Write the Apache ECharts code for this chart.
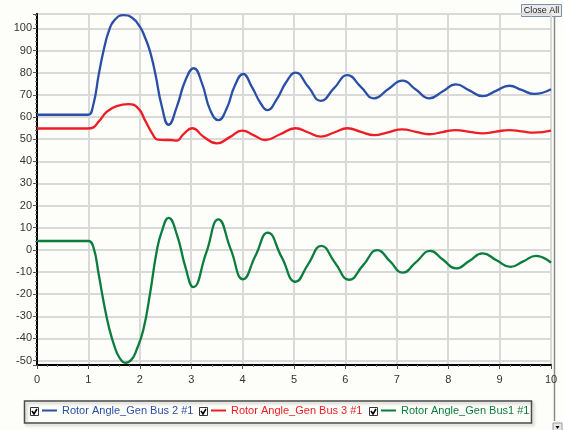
<!DOCTYPE html>
<html>
<head>
<meta charset="utf-8">
<script src="https://cdn.jsdelivr.net/npm/echarts@6/dist/echarts.min.js"></script>
<style>
  html, body { margin: 0; padding: 0; background: #fdfdf9; }
  #chart { width: 564px; height: 430px; }
</style>
</head>
<body>
<div id="chart"></div>
<script>
// rotor angle traces: time (s) and angle (deg)
const bus2Times = [0, 0.9, 1.0, 1.1, 1.2, 1.3, 1.4, 1.5, 1.68, 1.85, 2.0, 2.1, 2.2, 2.3, 2.43, 2.56, 2.72, 2.89,
  3.05, 3.21, 3.37, 3.53, 3.69, 3.85, 4.01, 4.18, 4.35, 4.48, 4.66, 4.85, 5.03, 5.28, 5.52, 5.78,
  6.04, 6.30, 6.56, 6.83, 7.11, 7.37, 7.63, 7.89, 8.15, 8.41, 8.67, 8.93, 9.19, 9.43, 9.67, 10]
const bus2Values = [61, 61, 61, 66, 79, 90.5, 99, 103.5, 106, 104.8, 100.8, 96, 89.5, 79.7, 64.6, 56.5, 64.6, 76.7,
  82, 75.2, 63.1, 58.6, 63.8, 74.2, 79.4, 73.6, 66.2, 63.1, 67.8, 75.8, 80, 73.5, 67.3, 73,
  78.9, 73.6, 68.4, 72.5, 76.4, 72.4, 68.4, 71.5, 74.7, 72, 69.4, 71.8, 74.1, 72.2, 70.4, 72.5]

const bus3Times = [0, 0.9, 1.05, 1.2, 1.36, 1.55, 1.78, 1.97, 2.1, 2.24, 2.35, 2.5, 2.6, 2.72, 2.85, 3.02,
  3.24, 3.5, 3.75, 3.99, 4.22, 4.44, 4.73, 5.03, 5.28, 5.52, 5.78, 6.04, 6.30, 6.56, 6.83,
  7.11, 7.37, 7.63, 7.89, 8.15, 8.41, 8.67, 8.93, 9.19, 9.43, 9.67, 10]
const bus3Values = [54.8, 54.8, 54.9, 57.9, 62.4, 64.9, 65.8, 63.9, 58.6, 52.6, 49.8, 49.6, 49.6, 49.3, 52.3, 54.9,
  51.1, 48.1, 50.9, 53.8, 51.7, 49.6, 52.2, 54.9, 53, 51.1, 53, 54.9, 53.3, 51.8, 53.1,
  54.4, 53.3, 52.2, 53.2, 54.1, 53.3, 52.6, 53.4, 54.1, 53.5, 52.9, 53.8]

const bus1Times = [0, 0.9, 1.0, 1.1, 1.2, 1.3, 1.4, 1.5, 1.6, 1.72, 1.84, 1.94, 2.07, 2.2, 2.33, 2.43, 2.56,
  2.72, 2.89, 3.04, 3.29, 3.53, 3.77, 4.01, 4.25, 4.49, 4.76, 5.03, 5.28, 5.53, 5.80, 6.07,
  6.35, 6.62, 6.87, 7.11, 7.38, 7.65, 7.90, 8.15, 8.41, 8.67, 8.94, 9.21, 9.46, 9.71, 10]
const bus1Values = [4, 4, 4, 1, -11, -24, -35, -43, -48.5, -51, -49.5, -45, -36, -19.6, -0.5, 8.5, 14.4,
  7, -8, -16.8, -1.5, 13.8, 0.2, -13.3, -2.7, 7.8, -3.3, -14.4, -6.3, 1.8, -5.9, -13.5,
  -6.8, -0.1, -5.2, -10.3, -5.4, -0.5, -4.5, -8.4, -5, -1.6, -4.7, -7.7, -5.2, -2.7, -5.8]

const names = ['Rotor Angle_Gen Bus 2 #1', 'Rotor Angle_Gen Bus 3 #1', 'Rotor Angle_Gen Bus1 #1']
const colors = ['#2b4ea6', '#ee1d25', '#0b7d3e']

const traces = [
  [bus2Times, bus2Values],
  [bus3Times, bus3Values],
  [bus1Times, bus1Values]
]

const pairs = (ts, vs) => ts.map((t, i) => [t, vs[i]])

const mychart = echarts.init(document.getElementById('chart'))

const legendLeft = [42, 211, 381]
const checkLeft = [30, 199, 369]

const checkBoxes = []
checkLeft.forEach(x => {
  checkBoxes.push({
    type: 'rect',
    shape: { x: x + 0.5, y: 407.5, width: 8, height: 8 },
    style: { fill: '#fff', stroke: '#333', lineWidth: 1 },
    z: 10
  })
  checkBoxes.push({
    type: 'polyline',
    shape: { points: [[x + 2, 411], [x + 4, 414], [x + 7, 409]] },
    style: { stroke: '#000', lineWidth: 1.6, fill: null },
    z: 11
  })
})

const option = {
  backgroundColor: '#fdfdf9',
  animation: false,
  color: colors,
  grid: {
    left: 37,
    right: 13,
    top: 14,
    bottom: 65,
    show: true,
    backgroundColor: '#fdfdf9',
    borderColor: '#6b6b6b',
    borderWidth: 1.5,
    outerBoundsMode: 'none'
  },
  legend: names.map((n, i) => ({
    data: [{ name: n, textStyle: { color: colors[i] } }],
    left: legendLeft[i],
    top: 405,
    padding: 0,
    icon: 'rect',
    itemWidth: 15,
    itemHeight: 2,
    selectedMode: false,
    textStyle: { fontFamily: 'Liberation Sans', fontSize: 11 }
  })),
  graphic: [
    {
      type: 'rect',
      shape: { x: 24.5, y: 401, width: 507, height: 22 },
      style: {
        fill: 'rgba(0,0,0,0)',
        stroke: '#4a4a4a',
        lineWidth: 1.5,
        shadowBlur: 3,
        shadowOffsetX: 2,
        shadowOffsetY: 2,
        shadowColor: 'rgba(0,0,0,0.25)'
      },
      z: 1
    },
    ...checkBoxes,
    {
      type: 'line',
      shape: { x1: 554.5, y1: 16, x2: 554.5, y2: 421 },
      style: { stroke: '#8a8a8a', lineWidth: 1.5 }
    },
    {
      type: 'rect',
      shape: { x: 553, y: 423, width: 9, height: 8 },
      style: { fill: '#e8e8e8', stroke: '#9a9a9a', lineWidth: 1 }
    },
    {
      type: 'polygon',
      shape: { points: [[555.5, 426], [559.5, 426], [557.5, 429]] },
      style: { fill: '#000' }
    },
    {
      type: 'rect',
      shape: { x: 521.5, y: 4.5, width: 40, height: 12 },
      style: { fill: '#ececec', stroke: '#7d8ea8', lineWidth: 1 }
    },
    {
      type: 'text',
      x: 541.5,
      y: 10.5,
      style: {
        text: 'Close All',
        fill: '#1a1a1a',
        font: '9px "Liberation Sans"',
        align: 'center',
        verticalAlign: 'middle'
      }
    }
  ],
  xAxis: {
    type: 'value',
    min: 0,
    max: 10,
    interval: 1,
    axisLine: { onZero: false, lineStyle: { color: '#000', width: 2 } },
    axisTick: { length: 4, lineStyle: { color: '#555' } },
    minorTick: { show: true, splitNumber: 5, length: 2, lineStyle: { color: '#777' } },
    axisLabel: { color: '#333', fontFamily: 'Liberation Sans', fontSize: 11, margin: 9 },
    splitLine: { lineStyle: { color: '#d9d9d9', width: 2 } }
  },
  yAxis: {
    type: 'value',
    min: -52,
    max: 106.5,
    splitNumber: 16,
    axisLine: { show: true, onZero: false, lineStyle: { color: '#000', width: 2 } },
    axisTick: { show: true, length: 4, lineStyle: { color: '#555' } },
    minorTick: { show: true, splitNumber: 5, length: 2, lineStyle: { color: '#777' } },
    axisLabel: {
      color: '#333',
      fontFamily: 'Liberation Sans',
      fontSize: 11,
      margin: 5,
      showMinLabel: false,
      showMaxLabel: false
    },
    splitLine: { lineStyle: { color: '#d9d9d9', width: 2 } }
  },
  series: names.map((n, i) => ({
    name: n,
    type: 'line',
    data: pairs(traces[i][0], traces[i][1]),
    showSymbol: false,
    smooth: 0.5,
    lineStyle: { width: 2.3, color: colors[i] },
    itemStyle: { color: colors[i] }
  }))
}

mychart.setOption(option)
</script>
</body>
</html>
